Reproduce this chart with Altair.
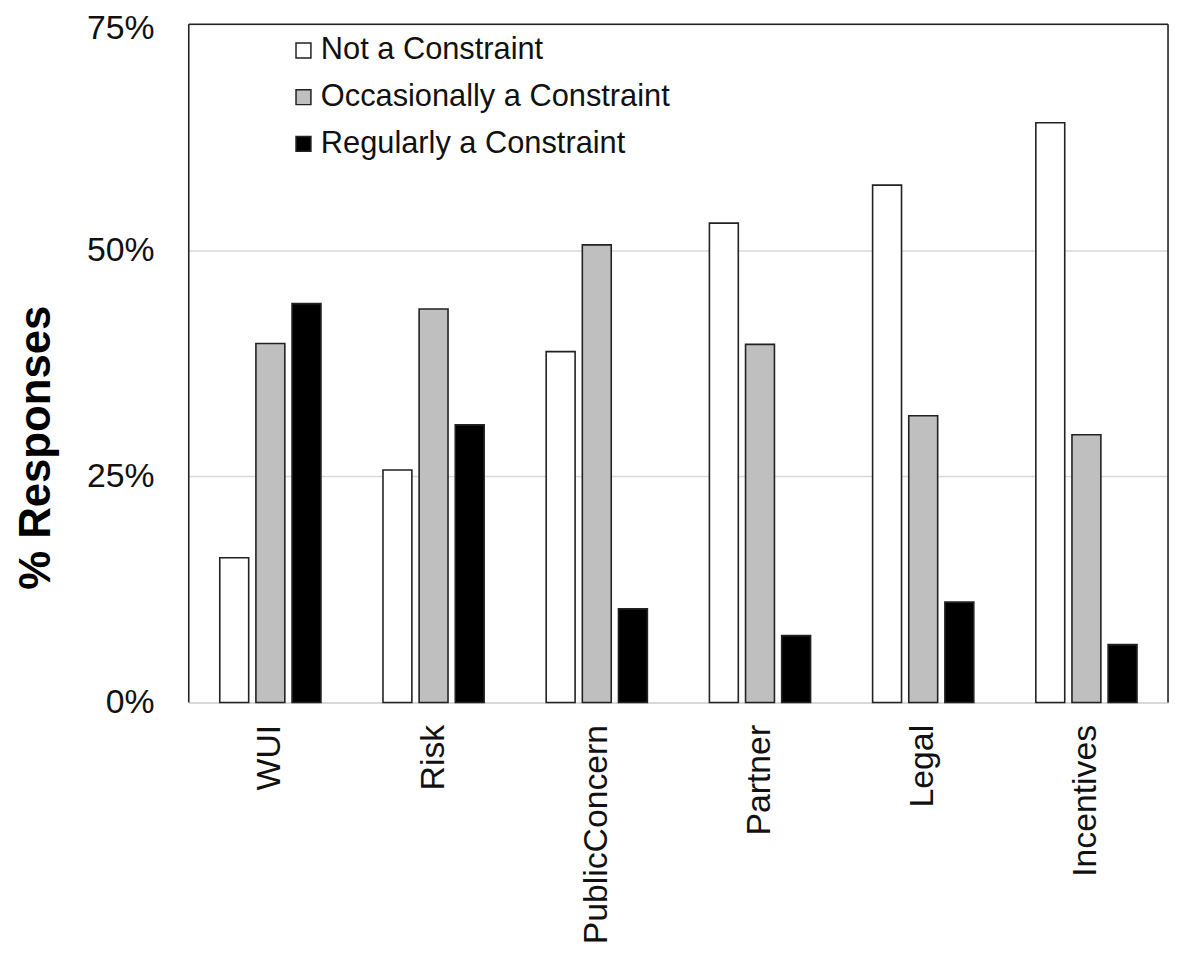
import altair as alt
import pandas as pd

categories = ["WUI", "Risk", "PublicConcern", "Partner", "Legal", "Incentives"]
series = ["Not a Constraint", "Occasionally a Constraint", "Regularly a Constraint"]
not_constraint = [16.0, 25.7, 38.8, 53.0, 57.2, 64.1]
occasionally = [39.7, 43.5, 50.6, 39.6, 31.7, 29.6]
regularly = [44.1, 30.7, 10.35, 7.4, 11.1, 6.4]
y_ticks = [0, 0.25, 0.5, 0.75]

rows = []
for i, c in enumerate(categories):
    for s, vals in zip(series, [not_constraint, occasionally, regularly]):
        rows.append({"category": c, "series": s, "value": vals[i] / 100.0})
df = pd.DataFrame(rows)

W, H = 986, 683
FONT = "Liberation Sans"

bars = alt.Chart(df).mark_bar(stroke="#222222", strokeWidth=1.6).encode(
    x=alt.X("category:N", sort=categories, title=None,
            scale=alt.Scale(paddingInner=0.38, paddingOuter=0.19),
            axis=alt.Axis(labelAngle=-90, labelFontSize=34, labelFont=FONT,
                          labelColor="#111111", labelPadding=22, ticks=False,
                          labelLimit=0,
                          domainColor="#d9d9d9", domainWidth=2)),
    xOffset=alt.XOffset("series:N", sort=series,
                        scale=alt.Scale(paddingInner=0.2, paddingOuter=0)),
    y=alt.Y("value:Q", scale=alt.Scale(domain=[0, 0.75], nice=False),
            title="% Responses",
            axis=alt.Axis(values=y_ticks, format=".0%", labelFontSize=34,
                          labelFont=FONT, labelColor="#111111", labelPadding=35,
                          labelOffset={"condition": {"test": "datum.value >= 0.75", "value": 4}, "value": 0},
                          ticks=False, domain=False, gridColor="#d9d9d9",
                          gridWidth=1.5, titleFont=FONT, titleFontSize=44,
                          titleFontWeight="bold", titleColor="#000000",
                          titleAngle=270, titleX=-140, titleY=426,
                          titleAlign="center", titleBaseline="alphabetic")),
    fill=alt.Fill("series:N", sort=series,
                  scale=alt.Scale(domain=series, range=["#ffffff", "#bfbfbf", "#000000"]),
                  legend=alt.Legend(title=None, orient="none", legendX=100, legendY=11,
                                    symbolType="square", symbolSize=225,
                                    symbolStrokeColor="#222222", symbolStrokeWidth=1.5,
                                    labelFont=FONT, labelFontSize=31, labelLimit=0,
                                    labelColor="#111111", labelOffset=2,
                                    rowPadding=15, padding=0)),
)

border_df = pd.DataFrame({"side": ["left", "right", "top"]})
left = alt.Chart(border_df).transform_filter("datum.side == 'left'").mark_rule(
    color="#222222", strokeWidth=1.6).encode(x=alt.value(0), y=alt.value(0), y2=alt.value(H))
right = alt.Chart(border_df).transform_filter("datum.side == 'right'").mark_rule(
    color="#222222", strokeWidth=1.6).encode(x=alt.value(W), y=alt.value(0), y2=alt.value(H))
top = alt.Chart(border_df).transform_filter("datum.side == 'top'").mark_rule(
    color="#222222", strokeWidth=1.6).encode(x=alt.value(0), x2=alt.value(W), y=alt.value(0))

chart = alt.layer(bars, left, right, top).properties(
    width=W, height=H,
    autosize=alt.AutoSizeParams(type="none"),
    padding={"left": 182, "top": 13, "right": 3, "bottom": 260},
    background="white",
).configure_view(stroke=None)

chart.save("out.html", embed_options={"renderer": "svg", "actions": False})
